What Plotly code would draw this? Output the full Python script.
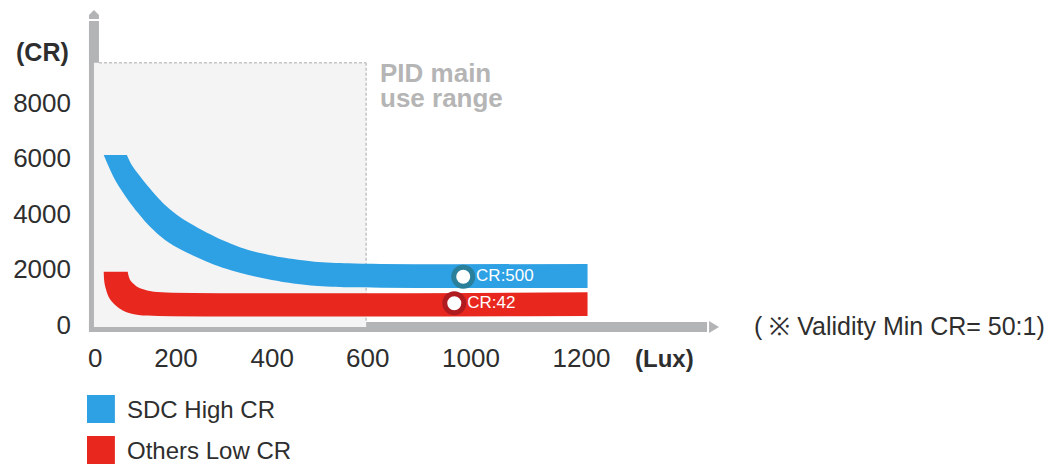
import plotly.graph_objects as go

# ---------------- data ----------------
x_tick_pos = [3, 202, 439, 674, 928, 1200]
x_tick_text = ["0", "200", "400", "600", "1000", "1200"]
y_tick_vals = [0, 2000, 4000, 6000, 8000]
y_tick_text = ["0", "2000", "4000", "6000", "8000"]

series_names = ["SDC High CR", "Others Low CR"]
series_colors = ["#2ea0e4", "#e8281f"]
ring_colors = ["#2a7f9b", "#b01b20"]

# SDC band: upper and lower edge of the thick curve
sdc_upper_lux = [81, 93, 134, 175, 216, 298, 380, 461, 543, 625, 707, 1215]
sdc_upper_cr = [6119, 5758, 4975, 4314, 3834, 3170, 2689, 2426, 2267, 2209, 2184, 2184]
sdc_lower_lux = [24, 52, 93, 134, 175, 216, 298, 380, 461, 543, 625, 707, 1215]
sdc_lower_cr = [6119, 5216, 4314, 3592, 3050, 2689, 2148, 1787, 1545, 1401, 1343, 1328, 1318]

# Others band
oth_upper_lux = [83, 89, 106, 134, 167, 1215]
oth_upper_cr = [1906, 1606, 1365, 1220, 1162, 1162]
oth_lower_lux = [24, 26, 36, 52, 77, 110, 159, 1215]
oth_lower_cr = [1906, 1487, 1004, 704, 462, 343, 307, 307]

marker_lux = [909, 887]
marker_cr = [1726, 765]
marker_labels = ["CR:500", "CR:42"]

pid_range_lux = [0, 670]
pid_range_cr_top = 9451

# ---------------- layout geometry (page pixels) ----------------
PAGE_W, PAGE_H = 1059, 466
OFF = 8                                  # default body margin of the html page
FIG_W, FIG_H = PAGE_W - OFF, PAGE_H - OFF
PX_L, PX_R, PX_T, PX_B = 80, 725, 13, 340  # plot area in page pixels
PW, PH = PX_R - PX_L, PX_B - PX_T
X_PX0, X_SCALE = 92.0, 0.4075     # page pixel of x=0, px per lux unit
Y_PX0, Y_SCALE = 324.5, 1 / 36.1  # page pixel of y=0, px per CR unit


def fx(p):
    return (p - PX_L) / PW


def fy(p):
    return (PX_B - p) / PH


def dx(p):
    return (p - X_PX0) / X_SCALE


def dy(p):
    return (Y_PX0 - p) / Y_SCALE


FONT = "Liberation Sans, Arial, Helvetica, sans-serif"
TEXT = "#2e2e2e"
BAR = "#b3b4b6"

fig = go.Figure()

bands = [
    (sdc_upper_lux, sdc_upper_cr, sdc_lower_lux, sdc_lower_cr),
    (oth_upper_lux, oth_upper_cr, oth_lower_lux, oth_lower_cr),
]
for i, (ux, uy, lx, ly) in enumerate(bands):
    fig.add_trace(go.Scatter(
        x=ux, y=uy, mode="lines",
        line=dict(width=0, color=series_colors[i], shape="spline", smoothing=0.8),
        hoverinfo="skip", showlegend=False,
    ))
    fig.add_trace(go.Scatter(
        x=lx, y=ly, mode="lines", fill="tonexty", fillcolor=series_colors[i],
        line=dict(width=0, color=series_colors[i], shape="spline", smoothing=0.8),
        name=series_names[i], hoverinfo="skip", showlegend=False,
    ))

for i in range(len(marker_lux)):
    fig.add_trace(go.Scatter(
        x=[marker_lux[i]], y=[marker_cr[i]],
        mode="markers+text", text=[marker_labels[i]],
        textposition="middle right",
        textfont=dict(family=FONT, size=17, color="white"),
        marker=dict(size=19, color="white", line=dict(width=5, color=ring_colors[i])),
        hoverinfo="skip", showlegend=False,
    ))

shapes = [
    dict(type="rect", xref="x", yref="y", x0=pid_range_lux[0], x1=pid_range_lux[1],
         y0=dy(327), y1=pid_range_cr_top, fillcolor="#f4f4f4", line=dict(width=0), layer="below"),
    dict(type="line", xref="x", yref="y", x0=dx(97), x1=pid_range_lux[1],
         y0=pid_range_cr_top, y1=pid_range_cr_top,
         line=dict(color="#c4c4c4", width=1.5, dash="3px,2px"), layer="below"),
    dict(type="line", xref="x", yref="y", x0=pid_range_lux[1], x1=pid_range_lux[1],
         y0=pid_range_cr_top, y1=dy(322),
         line=dict(color="#c4c4c4", width=1.5, dash="3px,2px"), layer="below"),
    # axis bars
    dict(type="line", xref="paper", yref="paper", x0=fx(92), x1=fx(92), y0=fy(332), y1=fy(21),
         line=dict(color=BAR, width=10), layer="below"),
    dict(type="line", xref="paper", yref="paper", x0=fx(87), x1=fx(707), y0=fy(327), y1=fy(327),
         line=dict(color=BAR, width=10), layer="below"),
    # arrow heads
    dict(type="path", xref="paper", yref="paper",
         path=f"M{fx(709)},{fy(321)} L{fx(709)},{fy(333)} L{fx(719)},{fy(327)} Z",
         fillcolor=BAR, line=dict(width=0), layer="below"),
    dict(type="path", xref="paper", yref="paper",
         path=f"M{fx(87)},{fy(19)} L{fx(97)},{fy(19)} L{fx(97)},{fy(15)} L{fx(92)},{fy(10)} L{fx(87)},{fy(15)} Z",
         fillcolor=BAR, line=dict(width=0), layer="below"),
]
# manual legend swatches
for i, top in enumerate([395, 436]):
    shapes.append(dict(type="rect", xref="paper", yref="paper",
                       x0=fx(85), x1=fx(113), y0=fy(top + 28), y1=fy(top),
                       fillcolor=series_colors[i], line=dict(width=0)))

annotations = [
    dict(text="<b>(CR)</b>", x=fx(40), y=fy(52), font=dict(size=25, color=TEXT)),
    dict(text="<b>(Lux)</b>", x=fx(664), y=fy(358), font=dict(size=24, color=TEXT)),
    dict(text="( ※ Validity Min CR= 50:1)", x=fx(752), y=fy(326), xanchor="left",
         font=dict(size=25, color=TEXT)),
    dict(text="<b>PID main</b>", x=fx(377), y=fy(73), xanchor="left",
         font=dict(size=26, color="#b5b5b5")),
    dict(text="<b>use range</b>", x=fx(377), y=fy(98), xanchor="left",
         font=dict(size=26, color="#b5b5b5")),
]
for i, cy in enumerate([409, 450]):
    annotations.append(dict(text=series_names[i], x=fx(123), y=fy(cy), xanchor="left",
                            font=dict(size=24, color=TEXT)))
for a in annotations:
    a.update(xref="paper", yref="paper", showarrow=False)
    a.setdefault("xanchor", "center")
    a["yanchor"] = "middle"
    a["font"]["family"] = FONT

fig.update_layout(
    width=FIG_W, height=FIG_H,
    margin=dict(l=PX_L - OFF, r=PAGE_W - PX_R, t=PX_T - OFF, b=PAGE_H - PX_B, pad=0),
    paper_bgcolor="white", plot_bgcolor="white",
    showlegend=False, hovermode=False,
    font=dict(family=FONT, size=26, color=TEXT),
    shapes=shapes, annotations=annotations,
    xaxis=dict(range=[dx(PX_L), dx(PX_R)], tickvals=x_tick_pos, ticktext=x_tick_text,
               showgrid=False, zeroline=False, showline=False, ticks="",
               tickfont=dict(size=26, color=TEXT), ticklabelstandoff=0, fixedrange=True),
    yaxis=dict(range=[dy(PX_B), dy(PX_T)], tickvals=y_tick_vals, ticktext=y_tick_text,
               showgrid=False, zeroline=False, showline=False, ticks="",
               tickfont=dict(size=26, color=TEXT), ticklabelstandoff=10, fixedrange=True),
)

fig.write_html("out.html")
